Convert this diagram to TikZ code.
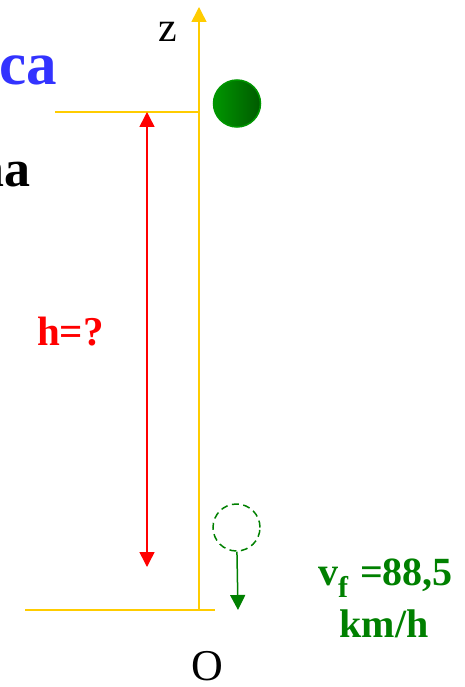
\documentclass[tikz,border=0pt]{standalone}
\usepackage{fontspec}
\setmainfont{Liberation Serif}
\usetikzlibrary{arrows.meta}
\definecolor{axisyellow}{RGB}{255,204,0}
\definecolor{titleblue}{RGB}{51,51,255}
\definecolor{darkgreen}{RGB}{0,128,0}
\definecolor{ballleft}{RGB}{0,150,0}
\definecolor{ballright}{RGB}{0,90,0}

\begin{document}
\begin{tikzpicture}[x=1pt,y=-1pt,
    >={Triangle[length=15pt,width=15pt]},
    axis/.style={draw=axisyellow,line width=1.5pt},
    ball/.style={circle,minimum size=47pt,inner sep=0pt,line width=1.5pt},
    big/.style={inner sep=0pt,font=\fontsize{#1}{#1}\selectfont\bfseries}]
    \clip (0,0) rectangle (464,687);

    % axis and reference levels
    \coordinate (O) at (199,610);
    \coordinate (ztop) at (199,7);
    \coordinate (topL) at (55,112);
    \coordinate (topR) at (199,112);
    \coordinate (botL) at (25,610);
    \coordinate (botR) at (215,610);
    \draw[axis,->] (O) -- (ztop);
    \draw[axis] (topL) -- (topR);
    \draw[axis] (botL) -- (botR);

    % height arrow
    \coordinate (hTop) at (147,112);
    \coordinate (hBot) at (147,567);
    \draw[red,line width=1.5pt,<->] (hTop) -- (hBot);
    \node[big=41,red,anchor=base west] (h) at (37,345) {h=?};

    % ball at start and at the end
    \node[ball,draw=ballleft,left color=ballleft,right color=ballright] (start) at (237,103.5) {};
    \node[ball,draw=darkgreen,dash pattern=on 7pt off 4.5pt] (end) at (236.5,527.5) {};
    \coordinate (vTip) at (238,610);
    \draw[darkgreen,line width=1.5pt,->] (end) -- (vTip);

    % labels
    \node[font=\fontsize{42}{42}\selectfont,inner sep=0pt,anchor=base] (z) at (168,42) {z};
    \node[font=\fontsize{44}{44}\selectfont,inner sep=0pt,anchor=base] (origin) at (207,680) {O};
    \node[big=61,titleblue,anchor=base east] (title) at (57,85) {ca};
    \node[big=52,anchor=base east] (sub) at (31,186) {na};
    \node[big=40,darkgreen,anchor=base west] (vf) at (318,585)
        {v\raisebox{-12pt}{\fontsize{30}{30}\selectfont f}\hspace{12pt}=88,5};
    \node[big=40,darkgreen,anchor=base] (kmh) at (384,637) {km/h};
\end{tikzpicture}
\end{document}
